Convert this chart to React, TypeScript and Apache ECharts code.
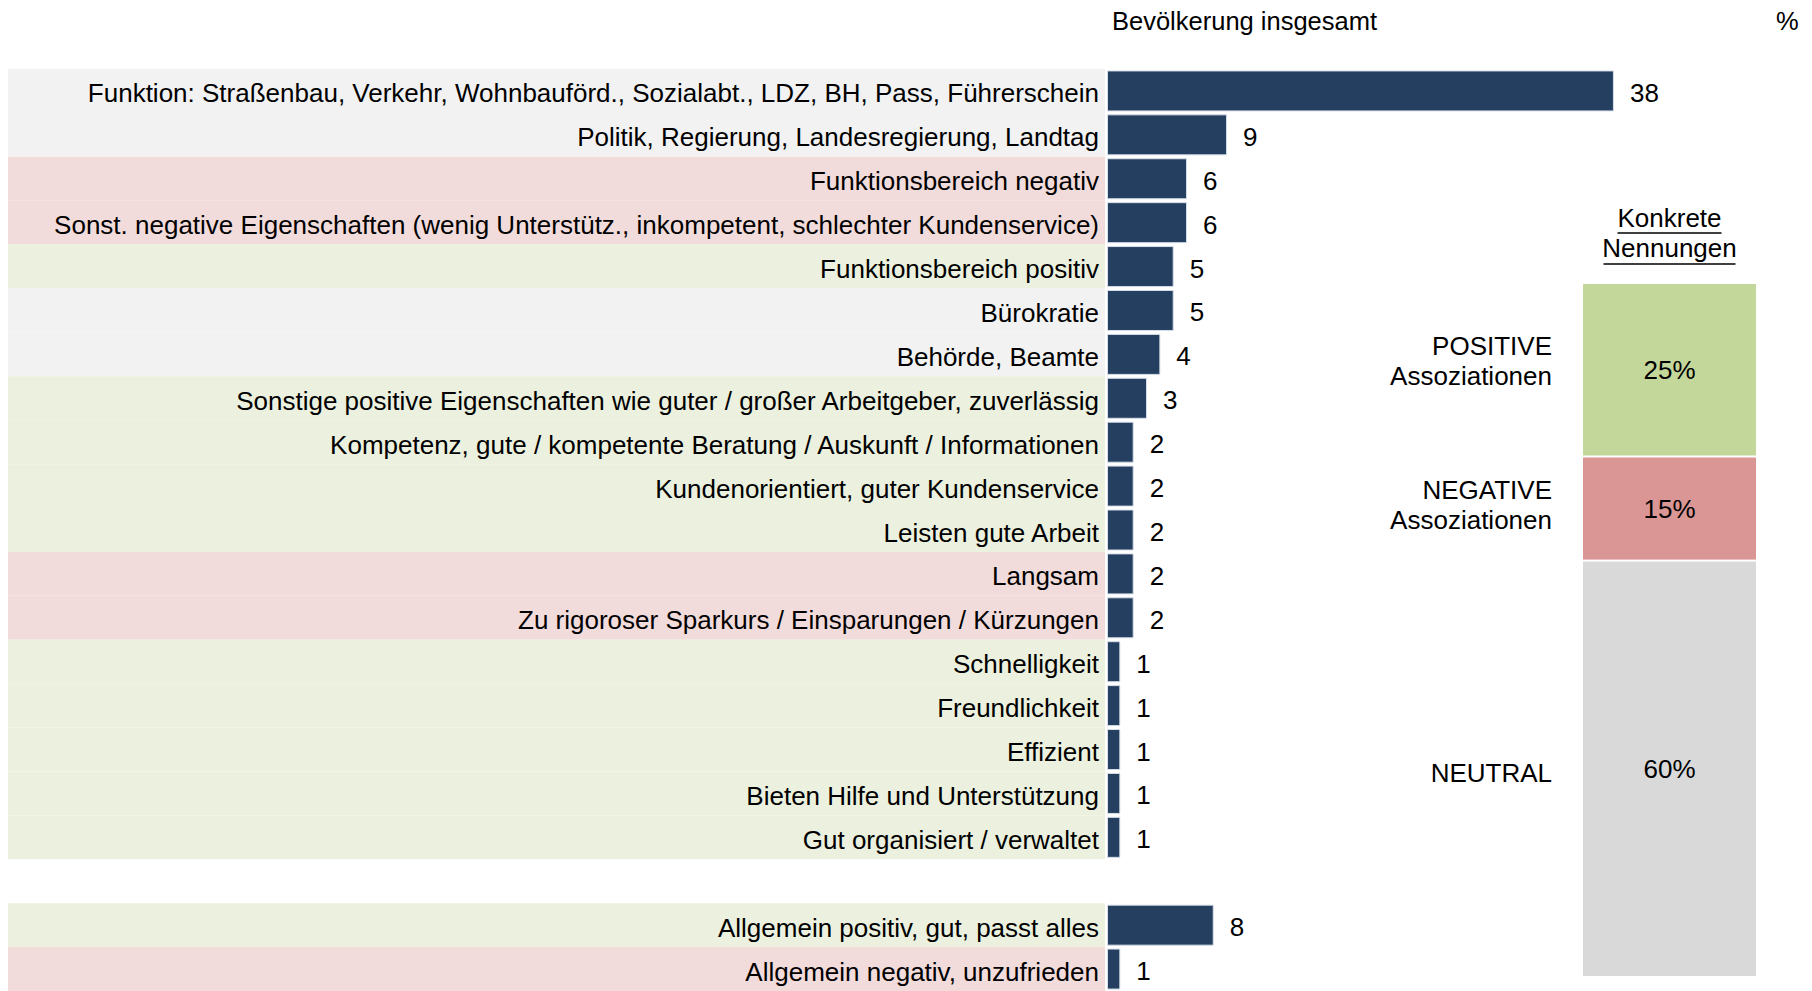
import React, { useEffect, useRef } from "react";
import * as echarts from "echarts";

const categories = [
  "Funktion: Straßenbau, Verkehr, Wohnbauförd., Sozialabt., LDZ, BH, Pass, Führerschein",
  "Politik, Regierung, Landesregierung, Landtag",
  "Funktionsbereich negativ",
  "Sonst. negative Eigenschaften (wenig Unterstütz., inkompetent, schlechter Kundenservice)",
  "Funktionsbereich positiv",
  "Bürokratie",
  "Behörde, Beamte",
  "Sonstige positive Eigenschaften wie guter / großer Arbeitgeber, zuverlässig",
  "Kompetenz, gute / kompetente Beratung / Auskunft / Informationen",
  "Kundenorientiert, guter Kundenservice",
  "Leisten gute Arbeit",
  "Langsam",
  "Zu rigoroser Sparkurs / Einsparungen / Kürzungen",
  "Schnelligkeit",
  "Freundlichkeit",
  "Effizient",
  "Bieten Hilfe und Unterstützung",
  "Gut organisiert / verwaltet",
  "",
  "Allgemein positiv, gut, passt alles",
  "Allgemein negativ, unzufrieden",
];

const values: (number | null)[] = [38, 9, 6, 6, 5, 5, 4, 3, 2, 2, 2, 2, 2, 1, 1, 1, 1, 1, null, 8, 1];

const tones: (string | null)[] = [
  "neutral", "neutral", "negative", "negative", "positive", "neutral", "neutral",
  "positive", "positive", "positive", "positive", "negative", "negative",
  "positive", "positive", "positive", "positive", "positive", null, "positive", "negative",
];

const summaryNames = ["POSITIVE\nAssoziationen", "NEGATIVE\nAssoziationen", "NEUTRAL"];
const summaryValues = [25, 15, 60];
const summaryTones = ["positive", "negative", "neutral"];

const bandColors: Record<string, string> = {
  neutral: "#F2F2F2",
  negative: "#F2DCDB",
  positive: "#EBF1DE",
};
const boxColors: Record<string, string> = {
  positive: "#C4D79B",
  negative: "#DA9694",
  neutral: "#D9D9D9",
};
const sideLabelShift = [-9, -4, 4];

const FONT = "Liberation Sans, Arial, sans-serif";
const FS = 26;

export default function App() {
  const ref = useRef<HTMLDivElement>(null);
  useEffect(() => {
    if (!ref.current) return;
    const chart = echarts.init(ref.current, undefined, { renderer: "svg" });
    const rowTop = 69;
    const rowH = 44;
    const gridH = rowH * categories.length;

    const option: any = {
      animation: false,
      backgroundColor: "#ffffff",
      textStyle: { fontFamily: FONT },
      title: [
        { text: "Bevölkerung insgesamt", left: 1107, top: 3, textStyle: { fontFamily: FONT, fontSize: 25.5, fontWeight: "normal", color: "#000" } },
        { text: "%", left: 1771, top: 3, textStyle: { fontFamily: FONT, fontSize: 25.5, fontWeight: "normal", color: "#000" } },
      ],
      grid: [
        { left: 8, width: 1097, top: rowTop, height: gridH, containLabel: false },
        { left: 1107, width: 667, top: rowTop, height: gridH, containLabel: false },
        { left: 1582, width: 175, top: 283, height: 694, containLabel: false },
      ],
      xAxis: [
        { type: "value", gridIndex: 0, min: 0, max: 1, show: false },
        { type: "value", gridIndex: 1, min: 0, max: 50, show: false },
        { type: "category", gridIndex: 2, data: [""], show: false },
      ],
      yAxis: [
        { type: "category", gridIndex: 0, data: categories, inverse: true, show: false },
        {
          type: "category", gridIndex: 1, data: categories, inverse: true, z: 10,
          axisLine: { show: false }, axisTick: { show: false }, splitLine: { show: false },
          axisLabel: {
            show: true, interval: 0, margin: 8,
            formatter: (v: string) => (v ? `{t|${v}}` : ""),
            rich: { t: { fontFamily: FONT, fontSize: FS, color: "#000", padding: [5, 0, 0, 0] } },
            fontFamily: FONT, fontSize: FS, color: "#000",
          },
        },
        { type: "value", gridIndex: 2, min: 0, max: 100, inverse: true, show: false },
      ],
      series: [
        {
          type: "bar", xAxisIndex: 0, yAxisIndex: 0, z: 0, silent: true,
          barWidth: "100%",
          data: tones.map((t) => (t ? { value: 1, itemStyle: { color: bandColors[t] } } : null)),
        },
        {
          type: "bar", xAxisIndex: 1, yAxisIndex: 1, z: 2,
          barWidth: 41,
          itemStyle: { color: "#253F60", borderColor: "#D6DEE8", borderWidth: 1 },
          label: { show: true, position: "right", distance: 16, offset: [0, 2], fontFamily: FONT, fontSize: FS, color: "#000" },
          data: values,
        },
        ...summaryValues.map((v, i) => ({
          type: "bar", xAxisIndex: 2, yAxisIndex: 2, stack: "vis", barWidth: "100%", barGap: "-100%",
          name: summaryNames[i],
          itemStyle: { color: boxColors[summaryTones[i]], borderColor: "#fff", borderWidth: 1 },
          label: { show: true, position: "inside", formatter: "{c}%", fontFamily: FONT, fontSize: FS, color: "#000" },
          data: [v],
        })),
        ...summaryValues.map((v, i) => ({
          type: "bar", xAxisIndex: 2, yAxisIndex: 2, stack: "side", barWidth: "100%", barGap: "-100%",
          name: summaryNames[i] + " ",
          itemStyle: { color: "rgba(0,0,0,0)" },
          silent: true,
          label: {
            show: true, position: "left", distance: 30, align: "right", lineHeight: 30,
            offset: [0, sideLabelShift[i]],
            formatter: () => summaryNames[i], fontFamily: FONT, fontSize: FS, color: "#000",
          },
          data: [v],
        })),
      ],
      graphic: [
        {
          type: "group", left: 1671 - 70, top: 205,
          children: [
            { type: "text", x: 70, y: 0, style: { text: "Konkrete", fontFamily: FONT, fontSize: FS, fill: "#000", align: "center" } },
            { type: "line", shape: { x1: 70 - 52, y1: 28, x2: 70 + 52, y2: 28 }, style: { stroke: "#000", lineWidth: 1.5 } },
            { type: "text", x: 70, y: 30, style: { text: "Nennungen", fontFamily: FONT, fontSize: FS, fill: "#000", align: "center" } },
            { type: "line", shape: { x1: 70 - 66, y1: 59, x2: 70 + 66, y2: 59 }, style: { stroke: "#000", lineWidth: 1.5 } },
          ],
        },
      ],
    };
    chart.setOption(option);
    return () => chart.dispose();
  }, []);
  return (
    <div
      ref={ref}
      style={{ position: "fixed", left: 0, top: 0, width: 1812, height: 991, background: "#fff" }}
    />
  );
}
